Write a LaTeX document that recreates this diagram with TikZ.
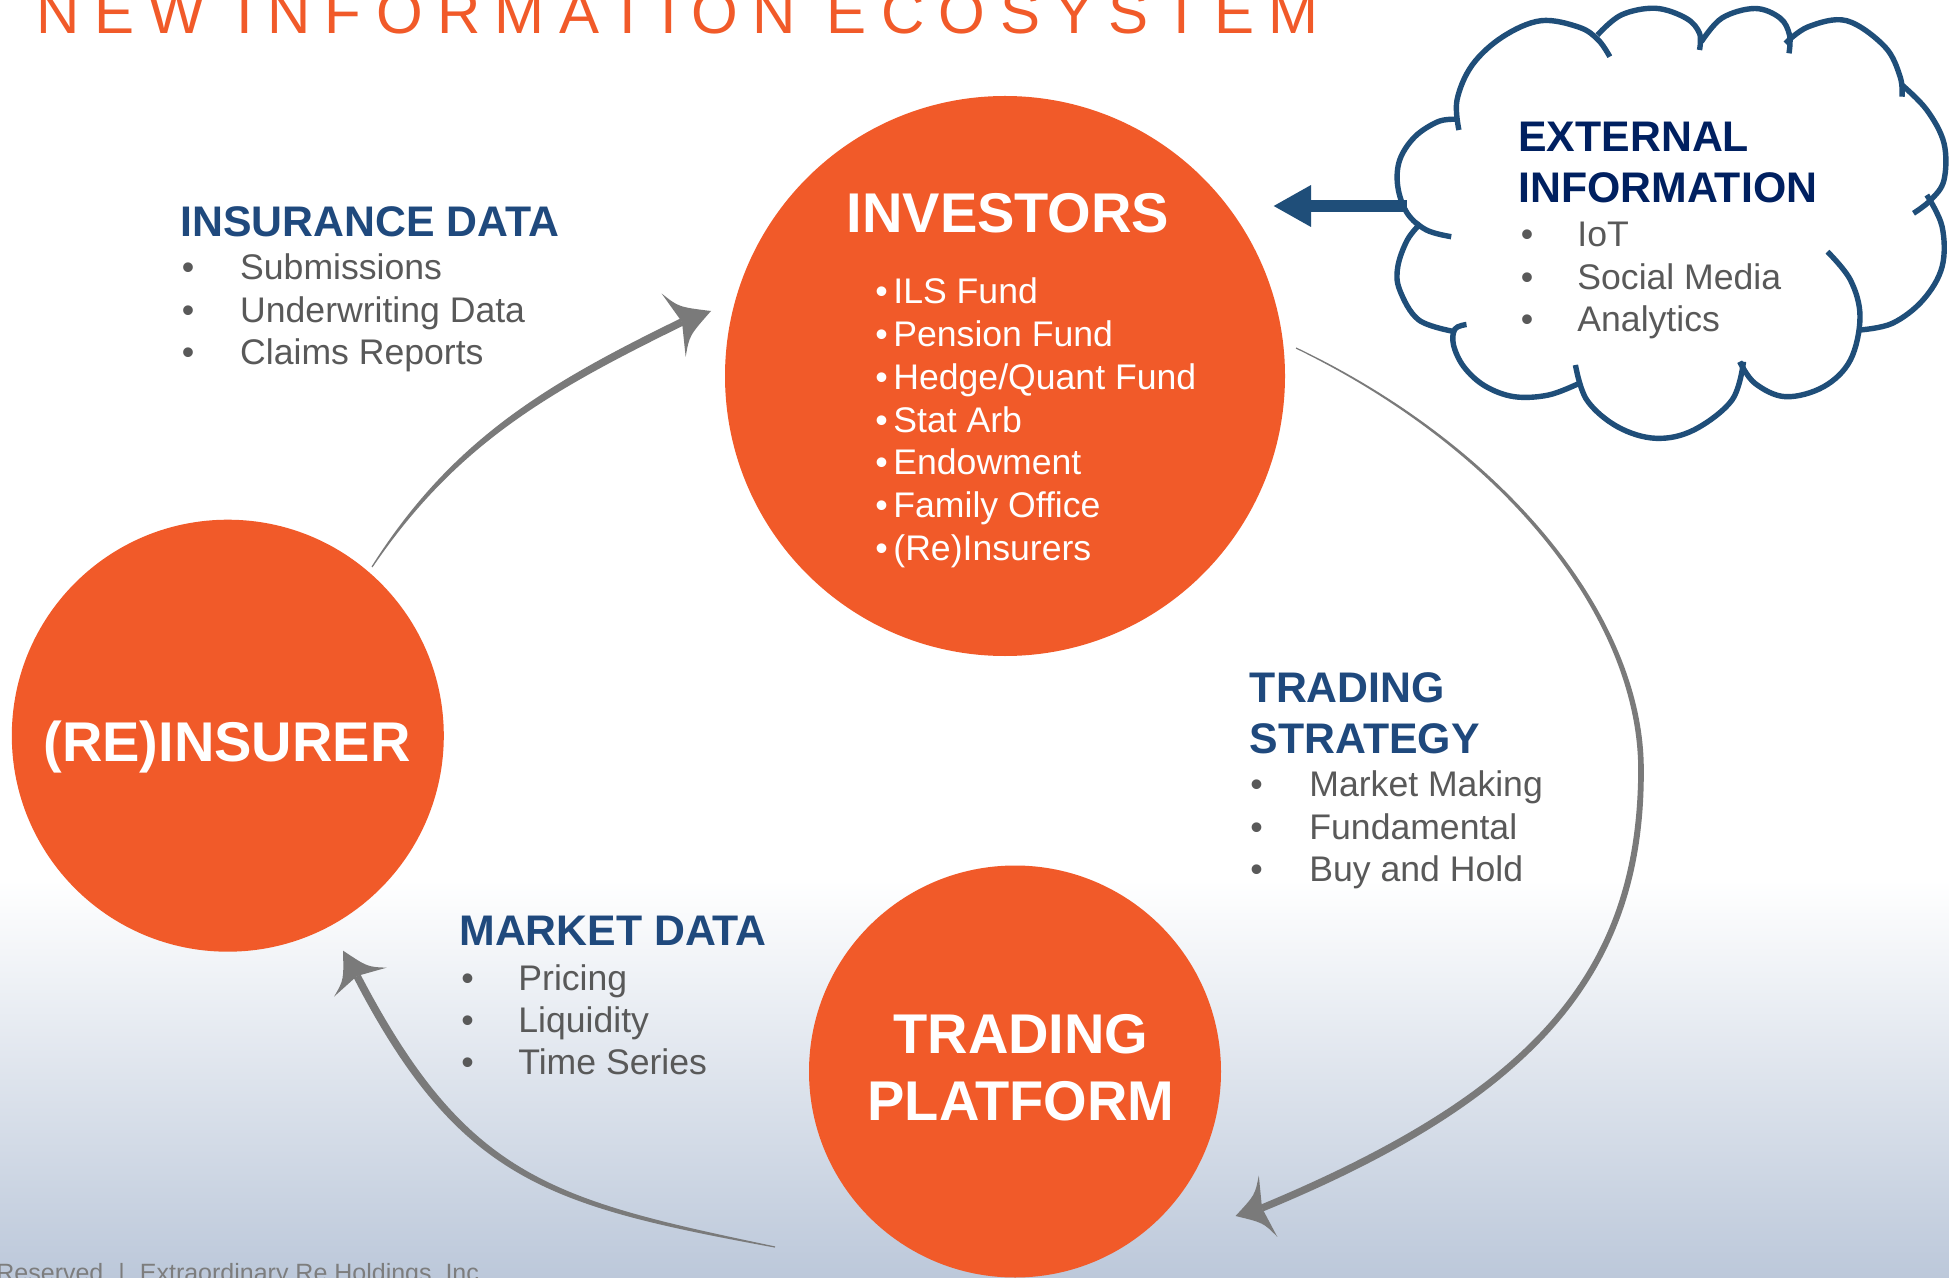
\documentclass[tikz,border=0pt]{standalone}
\usepackage{fontspec}
\setmainfont{Liberation Sans}
\newfontfamily\titlefont{Liberation Sans}[LetterSpace=24]
\usetikzlibrary{calc,arrows.meta}
\definecolor{orng}{RGB}{241,90,41}
\definecolor{hdrblue}{RGB}{31,73,125}
\definecolor{navy}{RGB}{0,32,96}
\definecolor{txtgray}{RGB}{89,89,89}
\definecolor{cloudblue}{RGB}{31,78,121}
\definecolor{arrowgray}{RGB}{122,122,122}
\definecolor{footgray}{RGB}{125,125,125}
\definecolor{bgblue}{RGB}{188,200,218}

% tapered curved shaft: #1 start, #2 #3 controls, #4 end, #5-#8 half widths
\newcommand\taperseg[8]{%
  \fill[arrowgray] ($(#1)!#5!90:(#2)$) .. controls ($(#2)!#6!-90:(#1)$) and ($(#3)!#7!90:(#4)$) .. ($(#4)!#8!-90:(#3)$)
   -- ($(#4)!#8!90:(#3)$) .. controls ($(#3)!#7!-90:(#4)$) and ($(#2)!#6!90:(#1)$) .. ($(#1)!#5!-90:(#2)$) -- cycle;}
% barbed head: #1 tip, #2 notch, #3 length, #4 half width
\newcommand\arrowhd[4]{%
  \path ($(#1)!#3!(#2)$) coordinate (hb);
  \path ($(hb)!#4!90:(#1)$) coordinate (hbA);
  \path ($(hb)!#4!-90:(#1)$) coordinate (hbB);
  \path ($(#1)!0.5!(hb)$) coordinate (hm);
  \fill[arrowgray] (#1) .. controls ($(hm)!0.45!(hbA)$) .. (hbA) -- (#2) -- (hbB) .. controls ($(hm)!0.45!(hbB)$) .. (#1) -- cycle;}

\begin{document}
\begin{tikzpicture}[x=0.5pt,y=-0.5pt,
  hdr/.style={anchor=base west, inner sep=0pt, text=hdrblue, font=\bfseries\fontsize{21.4}{25}\selectfont},
  exthdr/.style={hdr, text=navy},
  itm/.style={anchor=base west, inner sep=0pt, text=txtgray, font=\fontsize{17.8}{21}\selectfont},
  witm/.style={itm, text=white},
  ctitle/.style={anchor=base, inner sep=0pt, text=white, font=\bfseries\fontsize{28}{32}\selectfont},
  orb/.style={circle, fill=orng, inner sep=0pt}]
\useasboundingbox (0,0) rectangle (1949,1278);
\clip (0,0) rectangle (1949,1278);
\fill[white] (0,0) rectangle (1949,1278);
\shade[top color=white,bottom color=bgblue] (0,880) rectangle (1949,1278);

% title
\node[anchor=base west, inner sep=0pt, text=orng, font=\titlefont\fontsize{30}{34}\selectfont] (title) at (36,33.3) {NEW INFORMATION ECOSYSTEM};

% gray arrows
\coordinate (a1s) at (372,567);
\coordinate (a1c1) at (454,442);
\coordinate (a1c2) at (547,388);
\coordinate (a1n) at (682,322);
\coordinate (a1t) at (711,311);
\taperseg{a1s}{a1c1}{a1c2}{a1n}{0.3pt}{1.6pt}{2.0pt}{1.9pt}
\arrowhd{a1t}{a1n}{20pt}{17pt}

\coordinate (a2s) at (1296,348);
\coordinate (a2Ac1) at (1503,447.6);
\coordinate (a2Ac2) at (1641,616.4);
\coordinate (a2m) at (1641,770);
\coordinate (a2Bc1) at (1641,972);
\coordinate (a2Bc2) at (1535,1095);
\coordinate (a2n) at (1262,1208);
\coordinate (a2t) at (1235.5,1216);
\taperseg{a2s}{a2Ac1}{a2Ac2}{a2m}{0.3pt}{0.9pt}{1.5pt}{1.4pt}
\taperseg{a2m}{a2Bc1}{a2Bc2}{a2n}{1.4pt}{1.9pt}{2.1pt}{1.8pt}
\arrowhd{a2t}{a2n}{17pt}{16pt}

\coordinate (a3s) at (775,1247);
\coordinate (a3c1) at (549.4,1202.6);
\coordinate (a3c2) at (463,1179.6);
\coordinate (a3n) at (357,976);
\coordinate (a3t) at (343,950.6);
\taperseg{a3s}{a3c1}{a3c2}{a3n}{0.3pt}{1.7pt}{2.1pt}{1.9pt}
\arrowhd{a3t}{a3n}{18pt}{15pt}

% circles
\node[orb, minimum size=280pt] (inv) at (1005,376) {};
\node[orb, minimum size=216pt] (reins) at (227.8,735.7) {};
\node[orb, minimum size=206pt] (tplat) at (1015,1071.5) {};

\node[ctitle] (invt) at (1008,233) {INVESTORS};
\node[ctitle] (reinst) at (227,761.5) {(RE)INSURER};
\node[ctitle] (tplat1) at (1021,1053) {TRADING};
\node[ctitle] (tplat2) at (1021,1120) {PLATFORM};

\foreach \t [count=\i] in {ILS Fund,Pension Fund,Hedge/Quant Fund,Stat Arb,Endowment,Family Office,(Re)Insurers}{
  \node[witm] (invb\i) at (875,{304+42.67*(\i-1)}) {•};
  \node[witm] (invi\i) at (893,{304+42.67*(\i-1)}) {\t};
}

% insurance data
\node[hdr] (insh) at (180,236.7) {INSURANCE DATA};
\foreach \t [count=\i] in {Submissions,Underwriting Data,Claims Reports}{
  \node[itm] (insb\i) at (181.5,{280+42.5*(\i-1)}) {•};
  \node[itm] (insi\i) at (239.8,{280+42.5*(\i-1)}) {\t};
}
% market data
\node[hdr] (mkth) at (459,945.7) {MARKET DATA};
\foreach \t [count=\i] in {Pricing,Liquidity,Time Series}{
  \node[itm] (mktb\i) at (461,{990.3+42.2*(\i-1)}) {•};
  \node[itm] (mkti\i) at (518,{990.3+42.2*(\i-1)}) {\t};
}
% trading strategy
\node[hdr] (tsh1) at (1249.5,702.5) {TRADING};
\node[hdr] (tsh2) at (1249.5,753.5) {STRATEGY};
\foreach \t [count=\i] in {Market Making,Fundamental,Buy and Hold}{
  \node[itm] (tsb\i) at (1250,{796.7+42.6*(\i-1)}) {•};
  \node[itm] (tsi\i) at (1309,{796.7+42.6*(\i-1)}) {\t};
}

% cloud
\begin{scope}[cloudblue, line width=2.7pt]
\draw plot[smooth, tension=0.6] coordinates {(1458.9,130) (1457,100) (1472.2,65) (1502.8,36.7) (1541,20.7) (1579.2,27.3) (1598.3,40) (1609.8,56.7)};
\draw plot[smooth, tension=0.6] coordinates {(1597.5,35) (1621.2,15) (1655.6,8.3) (1686.2,18.3) (1699.5,33.3) (1699.5,50)};
\draw plot[smooth, tension=0.6] coordinates {(1701.4,41.7) (1722,18) (1755,8.5) (1780,18) (1789.5,35) (1789,53.3)};
\draw plot[smooth, tension=0.6] coordinates {(1785.5,43.3) (1808.4,26.7) (1846.6,20.7) (1884.8,46.7) (1900.1,76.7) (1902,96.7)};
\draw plot[smooth, tension=0.6] coordinates {(1902,85) (1926.8,110) (1944,143.3) (1944,180) (1930.7,200) (1913.5,213.3)};
\draw plot[smooth, tension=0.6] coordinates {(1926.8,195) (1942.1,226.7) (1942.1,266.7) (1923,300) (1892.4,323.3) (1860,330)};
\draw plot[smooth, tension=0.6] coordinates {(1827.5,251.7) (1850.4,280) (1860,316.7) (1850.4,360) (1823.7,386.7) (1785.5,396.7) (1754.9,383.3) (1739.7,361.7)};
\draw plot[smooth, tension=0.6] coordinates {(1743.5,361.7) (1732,400) (1693.8,430) (1655.6,438.3) (1617.4,426.7) (1586.8,400) (1575.4,365)};
\draw plot[smooth, tension=0.6] coordinates {(1579.2,383.3) (1548.6,395) (1514.3,396.7) (1485,386) (1464,367) (1453.5,345) (1455,329) (1466.5,324.5)};
\draw plot[smooth, tension=0.6] coordinates {(1455,331.7) (1418.8,320) (1399.7,290) (1397.8,266.7) (1407.3,240) (1420.7,223.3)};
\draw plot[smooth, tension=0.6] coordinates {(1451.2,236.7) (1426.4,230) (1407.3,213.3) (1397.8,186.7) (1399.7,160) (1414.9,136.7) (1437.9,121.7) (1455,119.3)};
\end{scope}

% blue arrow
\coordinate (bluestart) at (1407,206);
\coordinate (bluetip) at (1273,206);
\draw[cloudblue, line width=6.3pt, -{Triangle[length=19pt,width=19.5pt]}] (bluestart) -- (bluetip);

% external information
\node[exthdr] (ext1) at (1518,151.7) {EXTERNAL};
\node[exthdr] (ext2) at (1518,202.7) {INFORMATION};
\foreach \t [count=\i] in {IoT,Social Media,Analytics}{
  \node[itm] (extb\i) at (1520.5,{246.7+42.5*(\i-1)}) {•};
  \node[itm] (exti\i) at (1577,{246.7+42.5*(\i-1)}) {\t};
}

% footer
\node[anchor=base west, inner sep=0pt, text=footgray, font=\fontsize{12.5}{15}\selectfont] (foot) at (-4,1281) {Reserved\hspace{7.5pt}|\hspace{7.5pt}Extraordinary Re Holdings, Inc.};
\end{tikzpicture}
\end{document}
